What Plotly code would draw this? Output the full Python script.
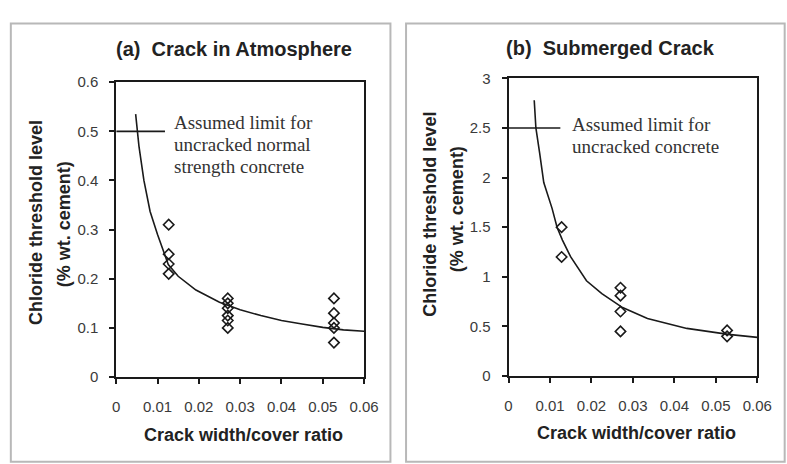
import plotly.graph_objects as go

W, H = 787, 464

# ---- data ----
# (a) Crack in atmosphere
a_x_obs = [0.0127] * 4 + [0.027] * 6 + [0.0527] * 5
a_y_obs = [0.31, 0.25, 0.23, 0.21,
           0.16, 0.15, 0.14, 0.125, 0.115, 0.10,
           0.16, 0.13, 0.11, 0.10, 0.07]
a_x_fit = [0.0047, 0.0055, 0.0067, 0.0082, 0.010, 0.0126, 0.015, 0.0193,
           0.025, 0.030, 0.035, 0.040, 0.045, 0.050, 0.055, 0.060]
a_y_fit = [0.535, 0.47, 0.40, 0.337, 0.29, 0.229, 0.205, 0.177,
           0.152, 0.137, 0.125, 0.115, 0.108, 0.101, 0.096, 0.093]
a_limit = 0.5
a_limit_x = [0, 0.0118]

# (b) Submerged crack
b_x_obs = [0.0128] * 2 + [0.027] * 4 + [0.0527] * 2
b_y_obs = [1.5, 1.2,
           0.89, 0.81, 0.65, 0.45,
           0.46, 0.40]
b_x_fit = [0.0062, 0.0066, 0.0075, 0.0085, 0.0105, 0.0117, 0.013, 0.015,
           0.0188, 0.0225, 0.0275, 0.0335, 0.043, 0.053, 0.060]
b_y_fit = [2.78, 2.5, 2.25, 1.95, 1.69, 1.50, 1.37, 1.20,
           0.96, 0.83, 0.69, 0.58, 0.48, 0.42, 0.39]
b_limit = 2.5
b_limit_x = [0, 0.0125]

x_ticks = [0, 0.01, 0.02, 0.03, 0.04, 0.05, 0.06]
a_y_ticks = [0, 0.1, 0.2, 0.3, 0.4, 0.5, 0.6]
b_y_ticks = [0, 0.5, 1, 1.5, 2, 2.5, 3]


def px(x):
    return x / W


def py(y):
    return 1 - y / H


INK = "#1a1a1a"
TXT = "#222222"
SANS = "Liberation Sans, Arial, sans-serif"
SERIF = "Liberation Serif, Times New Roman, serif"

fig = go.Figure()

marker = dict(symbol="diamond-open", size=8, color=INK, line=dict(width=1.6, color=INK))

for xa, ya, xf, yf, xo, yo, lx, ly in [
    ("x", "y", a_x_fit, a_y_fit, a_x_obs, a_y_obs, a_limit_x, a_limit),
    ("x2", "y2", b_x_fit, b_y_fit, b_x_obs, b_y_obs, b_limit_x, b_limit),
]:
    fig.add_trace(go.Scatter(x=xf, y=yf, mode="lines", xaxis=xa, yaxis=ya,
                             line=dict(color=INK, width=1.6), showlegend=False))
    fig.add_trace(go.Scatter(x=lx, y=[ly, ly], mode="lines", xaxis=xa, yaxis=ya,
                             line=dict(color=INK, width=1.6), showlegend=False))
    fig.add_trace(go.Scatter(x=xo, y=yo, mode="markers", xaxis=xa, yaxis=ya,
                             marker=marker, showlegend=False))

axis_common = dict(
    showgrid=False, zeroline=False, showline=True, linecolor=INK, linewidth=1.8,
    mirror=True, ticks="outside", ticklen=5, tickwidth=1.6, tickcolor=INK,
    tickfont=dict(family=SANS, size=15, color="#3a3a3a"),
)

fig.update_layout(
    width=W, height=H, margin=dict(l=0, r=0, t=0, b=0),
    paper_bgcolor="white", plot_bgcolor="white",
    xaxis=dict(domain=[px(115), px(369)], range=[0, 0.06], tickvals=x_ticks,
               anchor="y", ticklabelstandoff=10, **axis_common),
    yaxis=dict(domain=[py(382), py(76)], range=[0, 0.6], tickvals=a_y_ticks,
               anchor="x", ticklabelstandoff=8, **axis_common),
    xaxis2=dict(domain=[px(517), px(772)], range=[0, 0.06], tickvals=x_ticks,
                anchor="y2", ticklabelstandoff=10, **axis_common),
    yaxis2=dict(domain=[py(381), py(72)], range=[0, 3], tickvals=b_y_ticks,
                anchor="x2", ticklabelstandoff=8, **axis_common),
)

# panel frames
fig.add_shape(type="rect", xref="paper", yref="paper",
              x0=px(7), x1=px(396), y0=py(470), y1=py(15),
              line=dict(color="#b8b8b8", width=2))
fig.add_shape(type="rect", xref="paper", yref="paper",
              x0=px(412), x1=px(800), y0=py(470), y1=py(15),
              line=dict(color="#b8b8b8", width=2))


def text(x, y, s, size, family=SANS, bold=True, angle=0, xanchor="center", color=TXT):
    fig.add_annotation(
        x=px(x), y=py(y), xref="paper", yref="paper", text=f"<b>{s}</b>" if bold else s,
        showarrow=False, textangle=angle, xanchor=xanchor, yanchor="middle",
        font=dict(family=family, size=size, color=color),
    )


# titles
text(236, 42, "(a)  Crack in Atmosphere", 20)
text(622, 41, "(b)  Submerged Crack", 20)
# axis titles
text(245, 442, "Crack width/cover ratio", 18)
text(648, 440, "Crack width/cover ratio", 18)
text(33, 222, "Chloride threshold level", 18, angle=-90)
text(61, 224, "(% wt. cement)", 18, angle=-90)
text(437, 213, "Chloride threshold level", 18, angle=-90)
text(465, 208, "(% wt. cement)", 18, angle=-90)

# limit notes
for i, s in enumerate(["Assumed limit for", "uncracked normal", "strength concrete"]):
    text(172, 118 + 23 * i, s, 19, family=SERIF, bold=False, xanchor="left", color="#333333")
for i, s in enumerate(["Assumed limit for", "uncracked concrete"]):
    text(580, 120 + 23 * i, s, 19, family=SERIF, bold=False, xanchor="left", color="#333333")

fig.write_html("out.html")
